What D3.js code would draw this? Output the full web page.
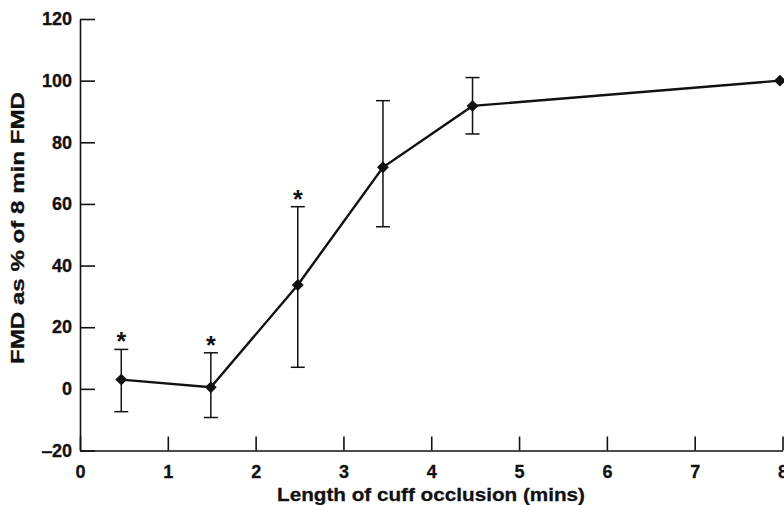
<!DOCTYPE html>
<html>
<head>
<meta charset="utf-8">
<script src="https://cdn.jsdelivr.net/npm/d3@7"></script>
<style>
  body { margin: 0; background: #fff; }
  svg { display: block; font-family: "Liberation Sans", Arial, sans-serif; }
  .tick text { font-weight: bold; font-size: 18px; fill: #111; stroke: #111; stroke-width: 0.3px; }
  .domain, .tick line { stroke: #111; stroke-width: 1.6px; }
</style>
</head>
<body>
<div id="chart"></div>
<script>
// values
const minutes = [0.47, 1.49, 2.48, 3.45, 4.47, 7.97];
const fmdPct = [3, 0.5, 33.7, 71.9, 91.8, 100];
const errUpper = [12.8, 11.7, 59.1, 93.5, 101, null];
const errLower = [-7.4, -9.3, 7.0, 52.6, 82.7, null];
const significant = [true, true, true, false, false, false];

const xTicks = [0, 1, 2, 3, 4, 5, 6, 7, 8];
const yTicks = [-20, 0, 20, 40, 60, 80, 100, 120];

const w = 784, h = 505;

const xScale = d3.scaleLinear().domain([0, 8]).range([80, 782.5]);
const yScale = d3.scaleLinear().domain([-20, 120]).range([450.5, 19]);

const svg = d3.select("#chart").append("svg").attr("width", w).attr("height", h);

const points = minutes.map((m, i) => ({
  x: m, y: fmdPct[i], hi: errUpper[i], lo: errLower[i], sig: significant[i]
}));

// axes, ticks point inwards
svg.append("g")
  .attr("transform", `translate(0,${yScale(-20)})`)
  .call(d3.axisBottom(xScale).tickValues(xTicks).tickSizeInner(-14).tickSizeOuter(0).tickPadding(10))
  .call(g => g.selectAll(".tick text").attr("dy", "0.95em"));

svg.append("g")
  .attr("transform", `translate(${xScale(0)},0)`)
  .call(d3.axisLeft(yScale).tickValues(yTicks).tickSizeInner(-15).tickSizeOuter(0).tickPadding(8)
    .tickFormat(d => d < 0 ? "\u201220" : d));

svg.append("text")
  .attr("x", 431).attr("y", 501)
  .attr("text-anchor", "middle")
  .style("font-weight", "bold").style("font-size", "19px").style("fill", "#111")
  .style("stroke", "#111").style("stroke-width", "0.3px")
  .attr("textLength", 308).attr("lengthAdjust", "spacingAndGlyphs")
  .text("Length of cuff occlusion (mins)");

svg.append("text")
  .attr("transform", "translate(24,228) rotate(-90)")
  .attr("text-anchor", "middle")
  .style("font-weight", "bold").style("font-size", "18px").style("fill", "#111")
  .style("stroke", "#111").style("stroke-width", "0.3px")
  .attr("textLength", 272).attr("lengthAdjust", "spacingAndGlyphs")
  .text("FMD as % of 8 min FMD");

// error bars
const bars = points.filter(d => d.hi != null);
const eb = svg.append("g").attr("stroke", "#111").attr("stroke-width", 1.5);
eb.selectAll(".v").data(bars).enter().append("line")
  .attr("x1", d => xScale(d.x)).attr("x2", d => xScale(d.x))
  .attr("y1", d => yScale(d.hi)).attr("y2", d => yScale(d.lo));
eb.selectAll(".capHi").data(bars).enter().append("line")
  .attr("x1", d => xScale(d.x) - 7).attr("x2", d => xScale(d.x) + 7)
  .attr("y1", d => yScale(d.hi)).attr("y2", d => yScale(d.hi));
eb.selectAll(".capLo").data(bars).enter().append("line")
  .attr("x1", d => xScale(d.x) - 7).attr("x2", d => xScale(d.x) + 7)
  .attr("y1", d => yScale(d.lo)).attr("y2", d => yScale(d.lo));

// line
const line = d3.line().x(d => xScale(d.x)).y(d => yScale(d.y));
svg.append("path")
  .datum(points)
  .attr("d", line)
  .attr("fill", "none")
  .attr("stroke", "#111")
  .attr("stroke-width", 2.4);

// diamonds
svg.selectAll(".pt").data(points).enter().append("path")
  .attr("d", d3.symbol(d3.symbolSquare, 70))
  .attr("transform", d => `translate(${xScale(d.x)},${yScale(d.y)}) rotate(45)`)
  .attr("fill", "#111");

// significance asterisks
svg.selectAll(".star").data(points.filter(d => d.sig)).enter().append("text")
  .attr("x", d => xScale(d.x))
  .attr("y", d => yScale(d.hi) + 1)
  .attr("text-anchor", "middle")
  .style("font-weight", "bold").style("font-size", "25px").style("fill", "#111")
  .text("*");
</script>
</body>
</html>
